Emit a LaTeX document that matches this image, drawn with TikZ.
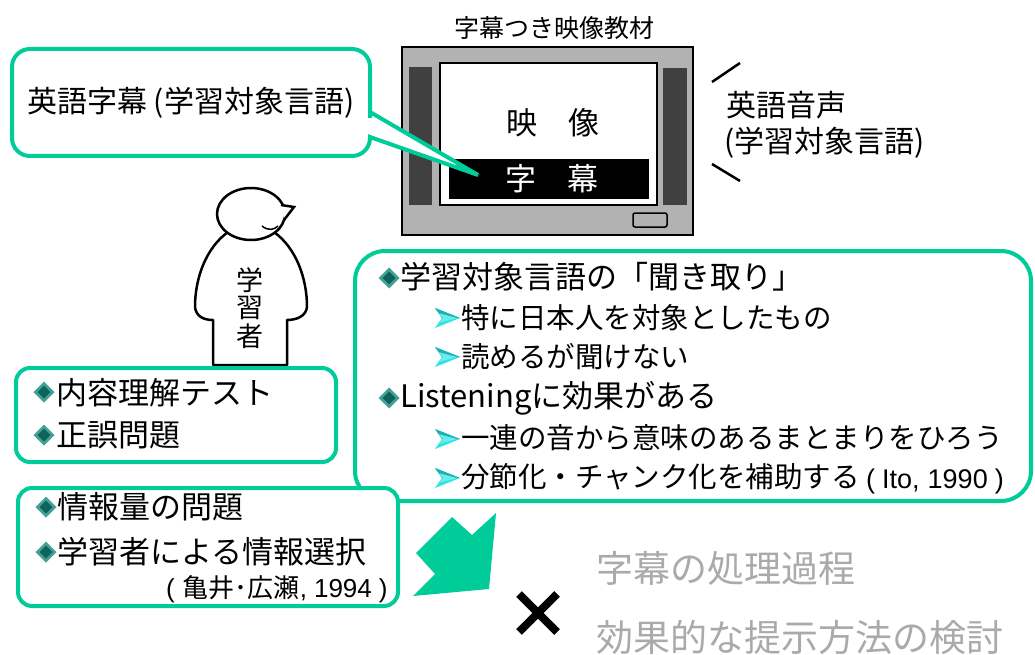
\documentclass[tikz,border=0pt]{standalone}
\usepackage{fontspec}
\setmainfont{Noto Sans CJK JP}
\newfontfamily\latinfont{Liberation Sans}
\definecolor{mint}{RGB}{0,204,153}
\definecolor{tvgray}{RGB}{178,178,178}
\definecolor{spk}{RGB}{64,64,64}
\definecolor{teald}{RGB}{12,100,92}
\definecolor{teall}{RGB}{70,160,150}
\definecolor{cyanb}{RGB}{45,228,228}
\definecolor{cyand}{RGB}{30,175,180}
\definecolor{softgray}{RGB}{170,170,170}
\tikzset{
  panel/.style={draw=mint, line width=4pt, fill=white},
  outline/.style={draw=black, line width=2.5pt, fill=white, line join=round},
  tvline/.style={draw=black, line width=1.5pt},
  lvone/.style={inner sep=0pt, anchor=west, font=\fontsize{31}{31}\selectfont},
  lvtwo/.style={inner sep=0pt, anchor=west, font=\fontsize{28.5}{28.5}\selectfont},
  cite/.style={inner sep=0pt, anchor=west, font=\fontsize{26}{26}\selectfont},
  plain/.style={inner sep=0pt, font=\fontsize{30}{30}\selectfont},
  faded/.style={inner sep=0pt, anchor=west, text=softgray, font=\fontsize{37}{37}\selectfont},
  dia/.pic={
    \fill[teall] (-10.5,0) -- (0,-10.5) -- (10.5,0) -- (0,10.5) -- cycle;
    \fill[teald] (-6.5,0) -- (0,-6.5) -- (6.5,0) -- (0,6.5) -- cycle;
  },
  pointer/.pic={
    \fill[cyanb] (-12,-10) -- (13,0) -- (-12,10) -- (-5,0) -- cycle;
    \fill[cyand] (-12,-10) -- (13,0) -- (-5,0) -- cycle;
    \fill[cyanb!70!white] (-9,-5) -- (10,0) -- (-9,5) -- (-4,0) -- cycle;
  }
}
\begin{document}
\begin{tikzpicture}[x=1pt,y=-1pt]
\useasboundingbox (0,0) rectangle (1035,655);
\fill[white] (0,0) rectangle (1035,655);

% ---- video set with subtitles ----
\node[plain, font=\fontsize{25}{25}\selectfont] (title) at (554,28) {字幕つき映像教材};
\draw[tvline, fill=tvgray] (402,47) rectangle (693,235);
\fill[spk] (409,67) rectangle (432,205);
\fill[spk] (663,68) rectangle (687,205);
\draw[tvline, fill=white] (440,63) rectangle (657,205);
\fill[black] (449,159) rectangle (649,199);
\draw[tvline, fill=tvgray, rounded corners=2pt] (633,213) rectangle (667,227);
\node[plain, font=\fontsize{31}{31}\selectfont] (image) at (553,123) {映　像};
\node[plain, font=\fontsize{31}{31}\selectfont, text=white] (subs) at (552,179) {字　幕};

% ---- sound ----
\coordinate (s1a) at (712,82);  \coordinate (s1b) at (740,63);
\coordinate (s2a) at (712,164); \coordinate (s2b) at (740,181);
\draw[line width=2.5pt] (s1a) -- (s1b);
\draw[line width=2.5pt] (s2a) -- (s2b);
\node[plain, anchor=west] (audio) at (726,105) {英語音声};
\node[plain, anchor=west] (audiolang) at (724,143) {(学習対象言語)};

% ---- speech bubble pointing at the subtitles ----
\coordinate (tip) at (478,175);
\draw[panel, line join=miter] (tip) -- (370,137) -- (370,139)
  [rounded corners=18] -- (370,156) -- (12,156) -- (12,49) -- (370,49) -- (370,100)
  [sharp corners] -- (370,112) -- cycle;
\node[plain, anchor=west] (bubbletext) at (27,103) {英語字幕 (学習対象言語)};

% ---- learner ----
\draw[outline] (228,232) .. controls (206,248) and (195,278) .. (195,307)
  .. controls (196,316) and (203,320) .. (213,320) -- (213,365) -- (287,365) -- (287,320)
  .. controls (297,320) and (306,316) .. (307,307)
  .. controls (307,278) and (296,248) .. (274,232);
\draw[outline] (251,214) ellipse [x radius=34, y radius=26];
\draw[line width=2.5pt, line join=miter, fill=white] (281,205) -- (294,207) -- (284,220);
\draw[line width=1.5pt] (262,226) .. controls (268,231) and (274,230) .. (278,226);
\node[plain, font=\fontsize{27}{27}\selectfont] (lk1) at (250,280) {学};
\node[plain, font=\fontsize{27}{27}\selectfont] (lk2) at (250,308) {習};
\node[plain, font=\fontsize{27}{27}\selectfont] (lk3) at (250,336) {者};

% ---- listening panel ----
\draw[panel, rounded corners=30] (355,251) rectangle (1031,501);
\pic at (389,278) {dia};
\node[lvone] (l1) at (400,277) {学習対象言語の「聞き取り」};
\pic at (447,318) {pointer};
\node[lvtwo] (l2) at (461,318) {特に日本人を対象としたもの};
\pic at (447,357) {pointer};
\node[lvtwo] (l3) at (461,357) {読めるが聞けない};
\pic at (389,398) {dia};
\node[lvone] (l4) at (400,398) {Listeningに効果がある};
\pic at (447,439) {pointer};
\node[lvtwo] (l5) at (461,438) {一連の音から意味のあるまとまりをひろう};
\pic at (447,478) {pointer};
\node[lvtwo] (l6) at (461,477) {分節化・チャンク化を補助する};
\node[cite, font=\fontsize{27}{27}\selectfont\latinfont] (c1) at (866,482)
  {(\hspace{7pt}Ito,\hspace{8pt}1990\hspace{7pt})};

% ---- comprehension test panel ----
\draw[panel, rounded corners=14] (16,368) rectangle (336,462);
\pic at (44,392) {dia};
\node[lvone] (t1) at (56,393) {内容理解テスト};
\pic at (44,435) {dia};
\node[lvone] (t2) at (56,435) {正誤問題};

% ---- information panel ----
\draw[panel, rounded corners=14] (18,488) rectangle (398,606);
\pic at (46,507) {dia};
\node[lvone] (i1) at (57,507) {情報量の問題};
\pic at (46,552) {dia};
\node[lvone] (i2) at (57,552) {学習者による情報選択};
\node[cite] (c2) at (166,589)
  {{\latinfont (}\hspace{8pt}亀井･広瀬{\latinfont ,\hspace{7pt}1994\hspace{7pt})}};

% ---- outlook ----
\fill[mint] (452,517) -- (472,535) -- (496,513) -- (489,589) -- (413,596) -- (435,574) -- (416,553) -- cycle;
\coordinate (xa) at (519,594); \coordinate (xb) at (557,632);
\coordinate (xc) at (557,594); \coordinate (xd) at (519,632);
\draw[line width=8pt] (xa) -- (xb);
\draw[line width=8pt] (xc) -- (xd);
\node[faded] (f1) at (596,568) {字幕の処理過程};
\node[faded] (f2) at (596,637) {効果的な提示方法の検討};
\end{tikzpicture}
\end{document}
